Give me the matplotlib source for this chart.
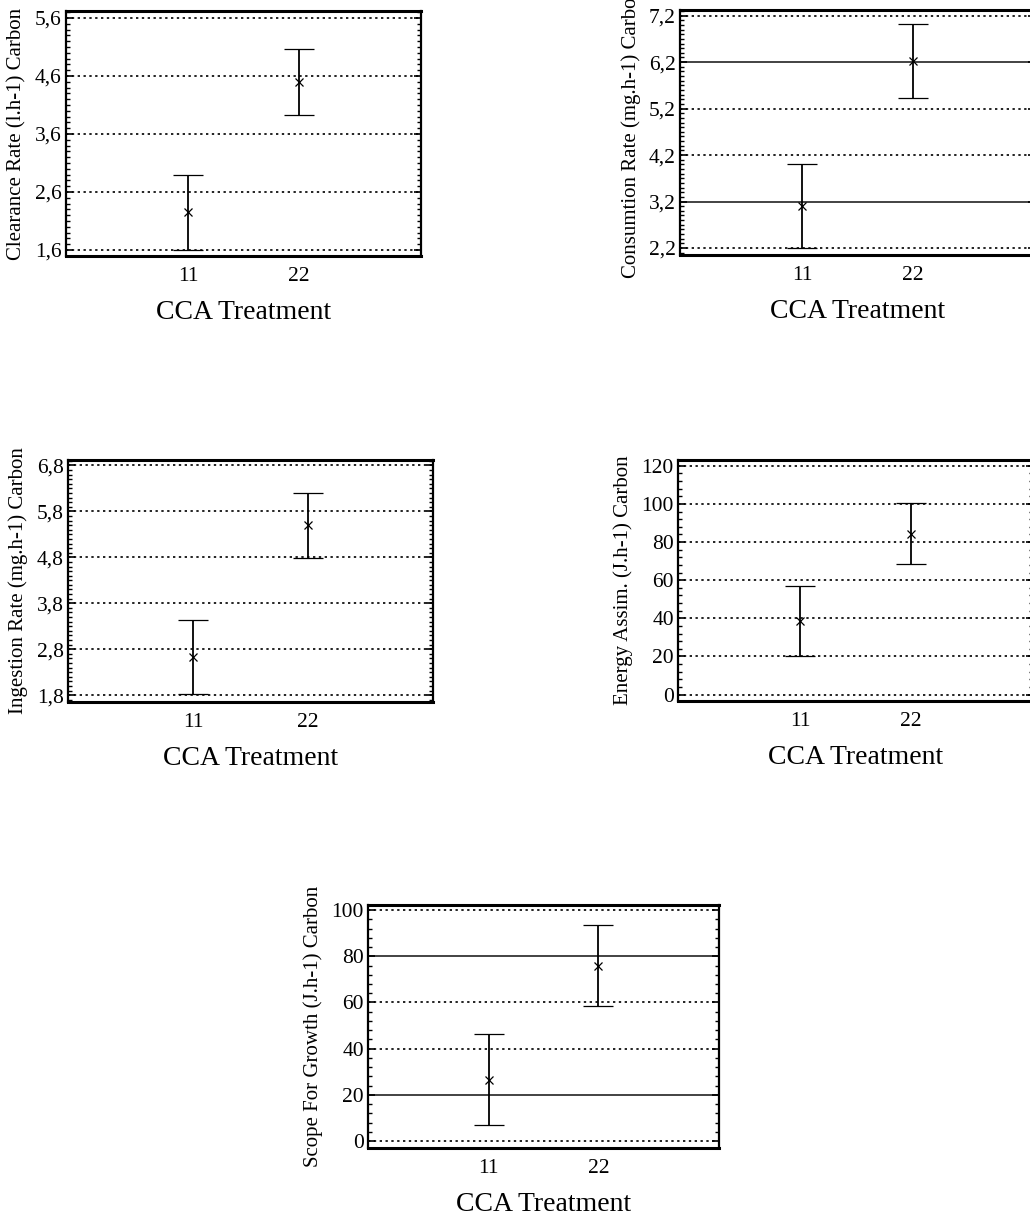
import matplotlib
matplotlib.use("Agg")
import matplotlib.pyplot as plt
from matplotlib.ticker import FixedLocator, AutoMinorLocator, FuncFormatter

plt.rcParams['font.family'] = ['Liberation Serif', 'DejaVu Serif']

treatments = ['11', '22']

clearance_mean = [2.25, 4.50]
clearance_err = [0.65, 0.57]

consumption_mean = [3.10, 6.22]
consumption_err = [0.90, 0.79]

ingestion_mean = [2.63, 5.50]
ingestion_err = [0.81, 0.71]

energy_mean = [38.5, 84.3]
energy_err = [18.2, 16.0]

sfg_mean = [26.5, 76.0]
sfg_err = [19.7, 17.5]

clearance_ticks = [1.6, 2.6, 3.6, 4.6, 5.6]
consumption_ticks = [2.2, 3.2, 4.2, 5.2, 6.2, 7.2]
ingestion_ticks = [1.8, 2.8, 3.8, 4.8, 5.8, 6.8]
energy_ticks = [0, 20, 40, 60, 80, 100, 120]
sfg_ticks = [0, 20, 40, 60, 80, 100]


def comma(v, pos):
	if abs(v - round(v)) < 1e-9:
		return "%d" % round(v)
	return ("%.1f" % v).replace('.', ',')


def panel(fig, rect, mean, err, ticks, ylim, ylabel, nminor, solid=()):
	ax = fig.add_axes(rect)
	x = range(1, len(treatments) + 1)
	ax.errorbar(x, mean, yerr=err, fmt='x', color='black', ms=6, mew=0.9,
				ecolor='black', elinewidth=1.3, capsize=11, capthick=1.4, zorder=3)
	ax.set_xlim(-0.1, 3.1)
	ax.set_ylim(*ylim)
	ax.set_xticks(list(x))
	ax.set_xticklabels(treatments)
	ax.yaxis.set_major_locator(FixedLocator(ticks))
	ax.yaxis.set_minor_locator(AutoMinorLocator(nminor))
	ax.yaxis.set_major_formatter(FuncFormatter(comma))
	ax.tick_params(axis='x', length=0, labelsize=15.5, pad=8)
	ax.tick_params(axis='y', which='both', direction='in', left=True, right=True, labelsize=15.5, pad=3)
	ax.tick_params(axis='y', which='major', length=5, width=1.2)
	ax.tick_params(axis='y', which='minor', length=3, width=1.0)
	# dotted grid, with some levels drawn as solid rules
	for t in ticks:
		if t in solid:
			ax.axhline(t, color='#222222', linestyle='-', linewidth=1.2, zorder=1)
		else:
			ax.axhline(t, color='#222222', linestyle=(0, (1.2, 1.8)), linewidth=1.4, zorder=1)
	for sp in ax.spines.values():
		sp.set_linewidth(1.6)
	ax.spines['top'].set_linewidth(2.2)
	ax.spines['bottom'].set_linewidth(2.2)
	ax.set_ylabel(ylabel, fontsize=15, labelpad=6)
	ax.set_xlabel('CCA Treatment', fontsize=20, labelpad=10)
	return ax


fig = plt.figure(figsize=(10.3, 12.12), dpi=100)

panel(fig, [0.0641, 0.7888, 0.3447, 0.2021], clearance_mean, clearance_err,
	  clearance_ticks, (1.497, 5.72), 'Clearance Rate (l.h-1) Carbon', 10)
panel(fig, [0.6602, 0.7896, 0.3447, 0.2021], consumption_mean, consumption_err,
	  consumption_ticks, (2.05, 7.32), 'Consumtion Rate (mg.h-1) Carbon', 10, solid=(3.2, 6.2))
panel(fig, [0.0660, 0.4208, 0.3544, 0.1997], ingestion_mean, ingestion_err,
	  ingestion_ticks, (1.65, 6.92), 'Ingestion Rate (mg.h-1) Carbon', 10)
panel(fig, [0.6583, 0.4216, 0.3447, 0.1988], energy_mean, energy_err,
	  energy_ticks, (-3.4, 123), 'Energy Assim. (J.h-1) Carbon', 5)
panel(fig, [0.3573, 0.0528, 0.3408, 0.2005], sfg_mean, sfg_err,
	  sfg_ticks, (-3, 102.2), 'Scope For Growth (J.h-1) Carbon', 5, solid=(20, 80))

fig.savefig('out.png', dpi=100)
